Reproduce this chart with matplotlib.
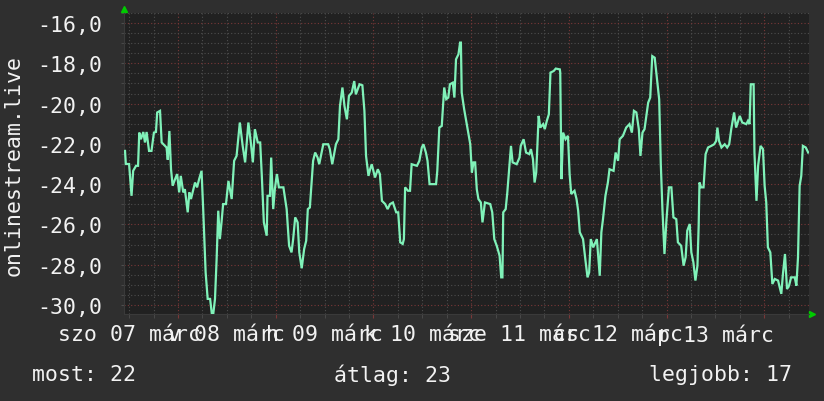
import matplotlib
matplotlib.use("Agg")
import matplotlib.pyplot as plt
from matplotlib.ticker import FixedLocator, FuncFormatter, MultipleLocator

# ---- data (hours since 07 March 00:00, value) ----
hours = [11.0, 11.2, 12.0, 12.6, 13.0, 13.7, 14.2, 14.5, 14.9, 15.5, 15.9, 16.3, 16.9, 17.5, 18.1, 18.6,
         18.9, 19.6, 20.0, 20.8, 21.2, 21.5, 21.9, 22.3, 22.7, 23.3, 23.8, 24.3, 24.7, 25.3, 25.7, 26.4,
         26.8, 27.2, 27.6, 28.2, 28.7, 29.2, 29.8, 30.2, 30.8, 31.3, 31.9, 32.3, 32.7, 33.1, 33.5, 33.9,
         34.3, 34.7, 35.1, 35.8, 36.4, 37.2, 37.8, 38.4, 38.8, 39.2, 39.9, 40.5, 41.3, 41.9, 42.4, 42.9,
         43.6, 44.2, 44.6, 45.1, 45.8, 46.0, 46.6, 46.9, 47.4, 47.8, 48.3, 48.8, 49.9, 50.7, 51.3, 51.9,
         52.3, 52.8, 53.4, 53.8, 54.4, 55.0, 55.5, 55.9, 56.4, 57.2, 57.7, 58.3, 58.7, 59.7, 60.9, 61.3,
         61.9, 62.8, 63.4, 63.8, 64.4, 64.9, 65.5, 66.0, 66.7, 67.3, 67.7, 68.6, 69.3, 69.8, 70.2, 70.8,
         71.2, 71.6, 72.4, 73.1, 73.6, 74.1, 74.9, 75.5, 76.1, 76.8, 77.6, 78.1, 78.6, 79.2, 79.5, 79.8,
         80.5, 81.0, 81.4, 82.7, 83.3, 83.9, 84.3, 84.9, 85.3, 85.8, 87.4, 87.7, 88.2, 88.8, 89.4, 89.9,
         90.4, 90.8, 91.5, 91.9, 92.3, 92.9, 93.3, 93.5, 93.7, 94.3, 94.8, 95.3, 95.8, 96.2, 96.6, 97.0,
         97.4, 97.8, 98.4, 98.8, 99.4, 100.7, 101.2, 101.7, 102.3, 103.0, 103.4, 103.7, 103.9, 104.5, 104.9, 105.4,
         105.8, 106.2, 107.2, 107.9, 108.2, 108.9, 109.5, 110.3, 110.7, 111.2, 111.6, 112.0, 112.6, 113.0, 113.7, 114.1,
         114.6, 115.1, 115.5, 116.3, 116.8, 117.8, 117.9, 118.2, 118.6, 119.2, 119.8, 120.2, 120.6, 121.4, 121.9, 122.3,
         122.7, 123.5, 124.1, 124.6, 125.0, 125.4, 126.0, 126.9, 127.6, 128.0, 128.4, 129.0, 129.6, 130.0, 131.0, 131.5,
         132.1, 132.5, 133.3, 134.1, 134.9, 135.5, 136.0, 136.6, 137.2, 137.6, 138.1, 138.6, 139.5, 140.0, 140.5, 141.1,
         141.5, 142.2, 142.6, 143.0, 143.5, 144.0, 144.6, 145.2, 145.7, 146.4, 146.8, 147.6, 148.2, 148.7, 149.1, 149.7,
         150.1, 150.6, 151.1, 151.6, 151.9, 152.1, 152.5, 153.1, 153.6, 154.2, 155.0, 155.7, 156.2, 156.5, 156.9, 157.5,
         158.3, 158.9, 159.4, 159.9, 160.6, 161.1, 162.0, 162.6, 163.6, 164.0, 164.4, 164.7, 165.4, 165.6, 166.1, 166.5,
         167.1, 167.7, 168.1, 168.5, 168.9, 169.5, 170.0, 170.6, 171.4, 171.8, 172.2, 172.6, 173.1, 173.6, 174.1, 174.6,
         175.5, 175.9, 176.3, 176.7, 177.1, 177.5, 178.2, 178.8]
values = [-22.35, -23.0, -23.0, -24.58, -23.34, -23.09, -23.09, -21.44, -21.77, -21.41, -21.93, -21.41, -22.35, -22.35, -21.44, -21.41,
          -20.44, -20.36, -21.93, -22.1, -22.18, -22.79, -21.36, -23.26, -24.08, -23.75, -23.5, -24.41, -23.59, -24.41, -24.25, -25.4,
          -24.41, -24.74, -24.41, -23.92, -24.16, -23.75, -23.34, -25.24, -28.38, -29.7, -29.7, -30.4, -30.4, -29.7, -27.72, -25.32,
          -26.73, -25.9, -24.99, -24.99, -23.84, -24.74, -22.84, -22.6, -21.77, -20.94, -22.1, -22.92, -20.94, -21.93, -22.92, -21.27,
          -21.93, -21.93, -23.59, -25.9, -26.56, -24.58, -24.58, -22.68, -25.24, -24.25, -23.5, -24.16, -24.16, -25.24, -27.06, -27.39,
          -26.73, -25.65, -25.9, -27.39, -28.18, -27.22, -26.81, -25.24, -25.16, -22.84, -22.43, -22.68, -23.01, -22.02, -22.02, -22.26,
          -23.01, -22.02, -21.77, -20.12, -19.2, -20.12, -20.78, -19.62, -19.45, -18.88, -19.54, -19.04, -19.09, -20.36, -22.6, -23.59,
          -23.26, -23.01, -23.67, -23.26, -23.5, -24.83, -24.99, -25.24, -24.99, -24.91, -25.4, -25.4, -26.89, -26.97, -26.73, -24.16,
          -24.33, -24.33, -23.01, -23.09, -22.84, -22.18, -22.02, -22.43, -22.84, -24.0, -24.0, -23.34, -21.19, -21.11, -19.2, -19.78,
          -19.7, -19.04, -18.96, -19.7, -17.8, -17.55, -16.97, -16.97, -19.45, -20.28, -20.86, -21.44, -22.02, -23.42, -22.92, -22.92,
          -24.25, -24.74, -24.91, -25.9, -24.91, -24.99, -25.4, -26.73, -27.06, -27.55, -28.63, -28.63, -25.4, -25.24, -24.41, -23.09,
          -22.1, -22.92, -23.01, -22.68, -22.1, -21.77, -22.43, -22.51, -22.26, -22.76, -23.92, -23.42, -20.61, -21.19, -21.02, -21.27,
          -20.86, -20.53, -18.46, -18.38, -18.26, -18.3, -18.46, -23.75, -21.44, -21.77, -21.6, -23.5, -24.49, -24.33, -24.74, -25.32,
          -26.39, -26.73, -27.8, -28.63, -28.38, -26.73, -27.14, -26.73, -28.55, -26.39, -25.74, -24.58, -23.92, -23.26, -23.34, -22.43,
          -22.84, -21.77, -21.6, -21.19, -21.02, -21.44, -20.36, -20.44, -21.27, -22.6, -21.44, -21.27, -19.95, -19.7, -17.64, -17.72,
          -18.46, -19.79, -23.01, -25.24, -27.47, -25.74, -24.16, -24.16, -25.65, -25.74, -26.89, -27.06, -28.05, -27.63, -26.31, -25.98,
          -27.39, -27.88, -28.79, -28.05, -26.07, -23.92, -24.16, -24.16, -22.51, -22.18, -22.1, -22.02, -21.85, -21.19, -21.85, -22.18,
          -22.02, -22.18, -22.02, -21.27, -20.44, -21.19, -20.61, -20.94, -21.02, -20.86, -21.02, -19.04, -19.04, -22.43, -24.83, -23.09,
          -22.1, -22.26, -24.08, -24.91, -27.14, -27.39, -28.96, -28.71, -28.79, -29.12, -29.45, -28.46, -27.47, -29.21, -29.04, -28.63,
          -28.63, -29.04, -27.63, -24.08, -23.59, -22.1, -22.18, -22.43]

day_labels = ["szo 07 márc", "v 08 márc", "h 09 márc", "k 10 márc",
              "sze 11 márc", "cs 12 márc", "p 13 márc"]
label_hours = [12, 36, 60, 84, 108, 132, 156]
y_ticks = [-30, -28, -26, -24, -22, -20, -18, -16]
series_name = "onlinestream.live"
legend_items = [("most", 22), ("átlag", 23), ("legjobb", 17)]

BG = "#2f2f2f"
PLOT_BG = "#212121"
TXT = "#f2f2f2"
LINE = "#80f2b9"
MAJ = "#7a3838"
MIN = "#4e4e4e"
FONT = "DejaVu Sans Mono"
FS = 15.5

fig = plt.figure(figsize=(8.24, 4.02), dpi=100, facecolor=BG)
ax = fig.add_axes([124 / 824, 1 - 315 / 402, (809 - 124) / 824, (315 - 14) / 402])
ax.set_facecolor(PLOT_BG)

ax.plot(hours, values, color=LINE, lw=1.6, solid_joinstyle="miter", zorder=3)

ax.set_xlim(10.75, 179.0)
ax.set_ylim(-30.45, -15.5)

# grids
ax.xaxis.set_major_locator(MultipleLocator(24))
ax.xaxis.set_minor_locator(MultipleLocator(6))
ax.yaxis.set_major_locator(FixedLocator(y_ticks))
ax.yaxis.set_minor_locator(MultipleLocator(0.5))
ax.grid(which="minor", color=MIN, lw=0.8, linestyle=(0, (1, 2)), zorder=1)
ax.grid(which="major", color=MAJ, lw=0.8, linestyle=(0, (1, 2)), zorder=2)

ax.xaxis.set_major_formatter(FuncFormatter(lambda v, p: ""))
lab_map = dict(zip(label_hours, day_labels))
ax.xaxis.set_minor_formatter(FuncFormatter(lambda v, p: lab_map.get(int(round(v)), "")))
ax.yaxis.set_major_formatter(FuncFormatter(lambda v, p: f"{v:.1f}".replace(".", ",")))

ax.tick_params(axis="x", which="both", length=3, colors=MIN, labelcolor=TXT, pad=4)
ax.tick_params(axis="x", which="major", colors=MAJ, labelcolor=TXT)
ax.tick_params(axis="y", which="both", length=2, colors=MIN, labelcolor=TXT, pad=14)
for lab in ax.get_xticklabels(minor=True) + ax.get_yticklabels():
    lab.set_fontfamily(FONT)
    lab.set_fontsize(FS)

for s in ["top", "right"]:
    ax.spines[s].set_visible(False)
ax.spines["left"].set_color("#3a3a3a")
ax.spines["bottom"].set_color("#3a3a3a")

# rrdtool-style axis arrows
ax.plot([0], [1.012], marker="^", color="#00cc00", ms=4, transform=ax.transAxes, clip_on=False)
ax.plot([1.005], [0], marker=">", color="#00cc00", ms=4, transform=ax.transAxes, clip_on=False)

fig.text(14 / 824, 1 - 165 / 402, series_name, rotation=90, ha="center", va="center",
         color=TXT, fontfamily=FONT, fontsize=FS)

xs = [32 / 824, 334 / 824, 792 / 824]
has = ["left", "left", "right"]
for (name, val), x, ha in zip(legend_items, xs, has):
    fig.text(x, 1 - 375 / 402, f"{name}: {val}", ha=ha, va="center",
             color=TXT, fontfamily=FONT, fontsize=FS)

fig.savefig("out.png", dpi=100, facecolor=BG)
